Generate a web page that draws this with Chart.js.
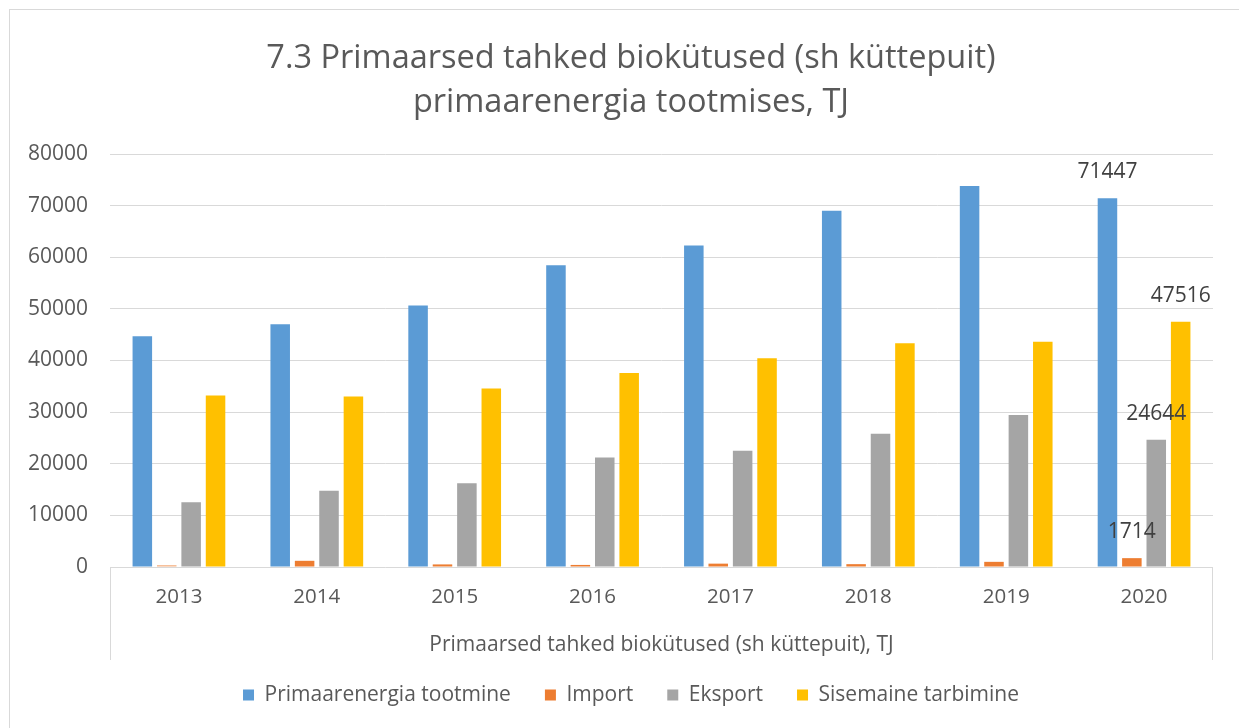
<!DOCTYPE html>
<html>
<head>
<meta charset="utf-8">
<script src="https://cdn.jsdelivr.net/npm/chart.js@4.4.1/dist/chart.umd.min.js"></script>
<style>
  html, body { margin: 0; padding: 0; background: #fff; }
  #wrap { width: 1239px; height: 728px; }
</style>
</head>
<body>
<div id="wrap"><canvas id="c" width="1239" height="728"></canvas></div>
<script>
const categories = ['2013', '2014', '2015', '2016', '2017', '2018', '2019', '2020'];
const primaarenergia = [44700, 47000, 50650, 58450, 62300, 69000, 73800, 71447];
const importVals = [350, 1200, 500, 400, 650, 550, 1000, 1714];
const eksport = [12550, 14750, 16200, 21200, 22500, 25800, 29450, 24644];
const tarbimine = [33200, 33050, 34600, 37600, 40450, 43350, 43650, 47516];
const seriesNames = ['Primaarenergia tootmine', 'Import', 'Eksport', 'Sisemaine tarbimine'];
const seriesColors = ['#5B9BD5', '#ED7D31', '#A5A5A5', '#FFC000'];
const yTicks = [0, 10000, 20000, 30000, 40000, 50000, 60000, 70000, 80000];
const titleLines = ['7.3 Primaarsed tahked biokütused (sh küttepuit)', 'primaarenergia tootmises, TJ'];
const axisTitle = 'Primaarsed tahked biokütused (sh küttepuit), TJ';
const labelIndex = 7;

const font = "'Open Sans', sans-serif";

const importColors = importVals.map((v, i) => i === 0 ? '#F4B183' : seriesColors[1]);

const frame = {
  id: 'frame',
  beforeDraw(chart) {
    const ctx = chart.ctx;
    ctx.save();
    ctx.fillStyle = '#ffffff';
    ctx.fillRect(0, 0, chart.width, chart.height);
    ctx.strokeStyle = '#d9d9d9';
    ctx.lineWidth = 1;
    ctx.strokeRect(9.5, 9.5, 1240, 740);
    ctx.restore();
  },
  afterDraw(chart) {
    const ctx = chart.ctx;
    const a = chart.chartArea;
    ctx.save();
    ctx.strokeStyle = '#d9d9d9';
    ctx.lineWidth = 1;
    ctx.beginPath();
    ctx.moveTo(Math.round(a.left) + 0.5, a.bottom);
    ctx.lineTo(Math.round(a.left) + 0.5, a.bottom + 93);
    ctx.moveTo(Math.round(a.right) - 0.5, a.bottom);
    ctx.lineTo(Math.round(a.right) - 0.5, a.bottom + 93);
    ctx.stroke();
    ctx.restore();
  }
};

const valueLabels = {
  id: 'valueLabels',
  afterDatasetsDraw(chart) {
    const ctx = chart.ctx;
    ctx.save();
    ctx.font = "21px " + font;
    ctx.fillStyle = '#404040';
    ctx.textAlign = 'center';
    ctx.textBaseline = 'middle';
    chart.data.datasets.forEach((ds, di) => {
      const meta = chart.getDatasetMeta(di);
      const bar = meta.data[labelIndex];
      if (!bar) return;
      ctx.fillText(String(ds.data[labelIndex]), bar.x, bar.y - 26);
    });
    ctx.restore();
  }
};

new Chart(document.getElementById('c'), {
  type: 'bar',
  data: {
    labels: categories,
    datasets: [
      { label: seriesNames[0], data: primaarenergia, backgroundColor: seriesColors[0] },
      { label: seriesNames[1], data: importVals, backgroundColor: importColors },
      { label: seriesNames[2], data: eksport, backgroundColor: seriesColors[2] },
      { label: seriesNames[3], data: tarbimine, backgroundColor: seriesColors[3] }
    ]
  },
  options: {
    responsive: false,
    animation: false,
    devicePixelRatio: 1,
    datasets: { bar: { categoryPercentage: 0.708, barPercentage: 0.8 } },
    layout: { padding: { left: 23, right: 0, top: 0, bottom: 12.5 } },
    plugins: {
      title: {
        display: true,
        text: titleLines,
        color: '#595959',
        font: { family: font, size: 32.5, weight: 'normal', lineHeight: 44 / 32.5 },
        padding: { top: 37, bottom: 29 }
      },
      legend: {
        display: true,
        position: 'bottom',
        labels: {
          color: '#595959',
          font: { family: font, size: 21 },
          boxWidth: 11,
          boxHeight: 11,
          padding: 34,
          generateLabels() {
            return seriesNames.map((n, i) => ({
              text: n, fillStyle: seriesColors[i], strokeStyle: seriesColors[i], lineWidth: 0,
              datasetIndex: i, fontColor: '#595959', hidden: false
            }));
          }
        }
      },
      tooltip: { enabled: false }
    },
    scales: {
      x: {
        grid: { display: false, drawTicks: false },
        border: { display: false },
        ticks: { color: '#595959', font: { family: font, size: 20.5 }, padding: 18 },
        title: {
          display: true, text: axisTitle, color: '#595959',
          font: { family: font, size: 21 }, padding: { top: 0, bottom: -7 }
        },
        afterFit(scale) { scale.height = 83.5; }
      },
      y: {
        min: 0, max: 80000,
        afterBuildTicks(scale) { scale.ticks = yTicks.map(v => ({ value: v })); },
        grid: { color: '#d9d9d9', lineWidth: 1, drawTicks: false },
        border: { display: false },
        ticks: { color: '#595959', font: { family: font, size: 21 }, padding: 22, callback: v => String(v) },
        afterFit(scale) { scale.width = 87; }
      },
      yRight: {
        position: 'right',
        min: 0, max: 80000,
        grid: { display: false, drawTicks: false },
        border: { display: false },
        ticks: { display: false },
        afterFit(scale) { scale.width = 26; }
      }
    }
  },
  plugins: [frame, valueLabels]
});
</script>
</body>
</html>
